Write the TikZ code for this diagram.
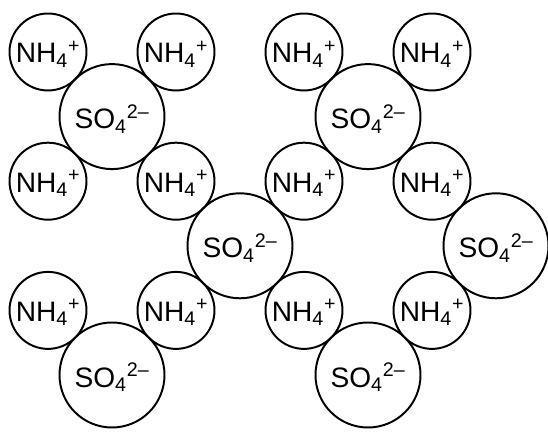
\documentclass[tikz,border=0pt]{standalone}
\usepackage{fontspec}
\setmainfont{Liberation Sans}
\tikzset{
  ion/.style={circle,draw=black,line width=1.4pt,inner sep=0pt,text depth=0pt,
    font=\fontsize{20}{24}\selectfont},
  cation/.style={ion,minimum size=1.925cm},
  anion/.style={ion,minimum size=2.625cm},
}
\newcommand{\ammonium}{NH\textsubscript{4}\textsuperscript{+}}
\newcommand{\sulfate}{SO\textsubscript{4}\textsuperscript{2--}}

\begin{document}
\begin{tikzpicture}
  \useasboundingbox (0,0) rectangle (13.7,10.975);
  % ammonium ions
  \foreach \c/\r [count=\i] in {0/0,2/0,4/0,6/0,0/2,2/2,4/2,6/2,0/4,2/4,4/4,6/4}
    \node[cation] (nh\i) at ({1.2+1.6*\c},{9.675-1.615*\r}) {\ammonium};
  % sulfate ions
  \foreach \c/\r [count=\i] in {1/1,5/1,3/3,7/3,1/5,5/5}
    \node[anion] (so\i) at ({1.2+1.6*\c},{9.675-1.615*\r}) {\sulfate};
\end{tikzpicture}
\end{document}
